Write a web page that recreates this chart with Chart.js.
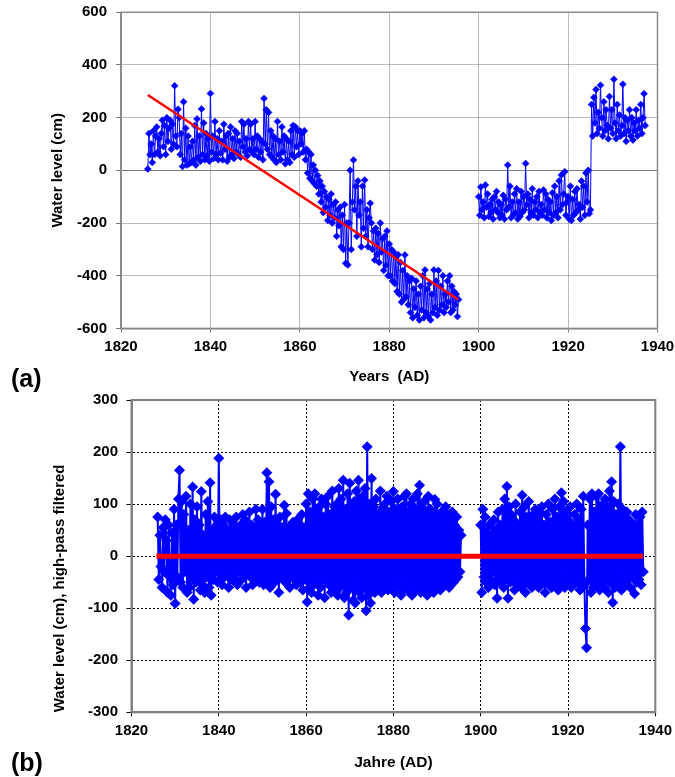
<!DOCTYPE html>
<html>
<head>
<meta charset="utf-8">
<script src="https://cdn.jsdelivr.net/npm/chart.js@4"></script>
<style>
  body { margin: 0; background: #fff; font-family: "Liberation Sans", Arial, sans-serif; }
  #wrap { position: relative; width: 675px; height: 777px; }
  .panel { position: absolute; left: 0; width: 675px; }
  #panelA { top: 0; height: 392px; }
  #panelB { top: 392px; height: 385px; }
  .tag { position: absolute; left: 11px; font-weight: bold; font-size: 25px; line-height: 1; color: #000; }
</style>
</head>
<body>
<div id="wrap">
  <div class="panel" id="panelA"><canvas id="chartA"></canvas></div>
  <div class="panel" id="panelB"><canvas id="chartB"></canvas></div>
  <div class="tag" style="top:366px">(a)</div>
  <div class="tag" style="top:750px">(b)</div>
</div>
<script>
// axis ticks
const xTicks = [1820, 1840, 1860, 1880, 1900, 1920, 1940];
const yTicksA = [-600, -400, -200, 0, 200, 400, 600];
const yTicksB = [-300, -200, -100, 0, 100, 200, 300];

// quarterly readings, two record segments (gap 1896-1899)
const sampleStep = 0.25;
const startYear1 = 1826;
const startYear2 = 1900;

// (a) water level, cm
const levelA1 = [
  5, 140, 60, 100,   30, 150, 60, 130,   165, 70, 120, 55,   140, 190, 90, 170,      // 1826-29
  60, 200, 110, 160,   190, 80, 175, 100,   321, 130, 90, 232,   200, 60, 140, 15,   // 1830-33
  260, 40, 160, 20,   130, 25, 90, 30,   110, 40, 170, 20,   195, 50, 130, 35,       // 1834-37
  233, 60, 180, 40,   140, 55, 120, 35,   292, 70, 130, 45,   185, 60, 120, 40,      // 1838-41
  150, 65, 110, 40,   175, 80, 130, 35,   140, 50, 165, 60,   120, 45, 150, 70,      // 1842-45
  140, 60, 110, 50,   185, 90, 175, 70,   120, 55, 185, 80,   175, 70, 120, 60,      // 1846-49
  185, 80, 130, 50,   120, 70, 110, 40,   273, 100, 230, 80,   220, 60, 150, 50,     // 1850-53
  130, 40, 120, 30,   185, 60, 110, 40,   165, 70, 130, 25,   120, 40, 110, 30,      // 1854-57
  150, 60, 170, 50,   165, 90, 150, 60,   150, 100, 140, 70,   150, 40, 80, -10,     // 1858-61
  70, -30, 60, -40,   20, -50, 0, -60,   -20, -90, -40, -120,   -60, -160, -80, -140, // 1862-65
  -100, -190, -110, -170,   -90, -200, -130, -180,   -120, -250, -150, -210,   -140, -290, -170, -300, // 1866-69
  -130, -353, -200, -359,   -200, 0, -300, -120,   39, -150, -60, -250,   -40, -170, -120, -290,    // 1870-73
  -60, -220, -37, -250,   -150, -290, -180, -125,   -200, -300, -230, -340,   -220, -320, -240, -350, // 1874-77
  -200, -310, -260, -380,   -250, -360, -230, -400,   -280, -400, -300, -420,   -310, -430, -330, -460, // 1878-81
  -320, -470, -350, -500,   -380, -490, -321, -480,   -400, -510, -420, -540,   -410, -560, -450, -520, // 1882-85
  -420, -550, -470, -568,   -440, -530, -400, -560,   -378, -540, -450, -555,   -430, -568, -470, -540, // 1886-89
  -378, -520, -420, -550,   -380, -530, -440, -510,   -400, -540, -470, -520,   -420, -500, -400, -540, // 1890-93
  -440, -530, -460, -510,   -470, -555, -490                                                           // 1894-95
];
const levelA2 = [
  -100, -170, -63, -150,   -120, -180, -56, -140,   -90, -175, -130, -160,   -110, -185, -100, -150, // 1900-03
  -80, -160, -120, -180,   -130, -170, -95, -185,   -110, -150, 20, -140,   -60, -180, -120, -170,    // 1904-07
  -90, -160, -70, -185,   -120, -175, -80, -160,   -100, -150, 26, -130,   -90, -180, -110, -160,     // 1908-11
  -70, -170, -120, -150,   -100, -180, -80, -160,   -130, -170, -75, -150,   -90, -180, -110, -160,   // 1912-15
  -120, -190, -85, -170,   -60, -160, -100, -180,   -40, -150, -18, -130,   -90, -5, -170, -120,      // 1916-19
  -100, -185, -60, -190,   -110, -170, -80, -160,   -70, -150, -130, -185,   -40, -140, -60, -170,    // 1920-23
  -10, -120, 0, -164,   -150, 250, 130, 277,   180, 307, 140, 220,   160, 323, 200, 130,             // 1924-27
  260, 150, 230, 170,   120, 280, 160, 230,   140, 346, 180, 120,   250, 150, 210, 130,              // 1928-31
  170, 327, 140, 200,   110, 190, 150, 230,   130, 200, 115, 180,   150, 230, 130, 190,              // 1932-35
  160, 250, 140, 200,   291, 170                                                                        // 1936-37
];
const trendYearsA = [1826, 1895.4];
const trendA = [286, -490];

// (b) high-pass filtered water level, cm
const filteredB1 = [
  75, -45, 40, -20,   -60, 55, -30, 70,   30, -70, 60, -40,   -75, 45, -55, 90,     // 1826-29
  -91, 60, -40, 110,   165, -50, 105, -60,   80, -30, 115, -70,   50, -60, 100, -45, // 1830-33
  133, -83, 70, -50,   95, -40, 60, -65,   124, -55, 40, -70,   80, -40, 105, -60,   // 1834-37
  141, -75, 50, -45,   75, -30, 60, -50,   188, -45, 70, -55,   60, -40, 75, -30,    // 1838-41
  50, -60, 70, -45,   65, -35, 55, -50,   75, -55, 45, -30,   60, -45, 80, -40,      // 1842-45
  70, -60, 55, -35,   85, -40, 60, -55,   50, -30, 90, -45,   70, -50, 60, -40,      // 1846-49
  90, -55, 65, -30,   160, -45, 143, -60,   95, -35, 70, -50,   119, -40, 60, -70,  // 1850-53
  75, -30, 55, -45,   98, -50, 82, -40,   55, -60, 45, -35,   65, -45, 50, -55,      // 1854-57
  70, -40, 60, -50,   80, -65, 55, -45,   100, -88, 120, -60,   85, -70, 110, -55,  // 1858-61
  120, -50, 90, -75,   95, -60, 110, -45,   75, -80, 100, -50,   115, -55, 80, -70,  // 1862-65
  125, -65, 95, -50,   100, -75, 130, -60,   110, -55, 146, -80,   90, -70, 120, -113, // 1866-69
  140, -60, 95, -85,   105, -90, 125, -65,   146, -70, 110, -80,   115, -60, 130, -105, // 1870-73
  210, -75, 100, -90,   149, -65, 95, -70,   110, -55, 80, -60,   125, -70, 90, -50,  // 1874-77
  100, -60, 115, -65,   85, -45, 105, -55,   124, -70, 90, -60,   110, -50, 80, -75,  // 1878-81
  95, -65, 115, -55,   120, -60, 85, -70,   100, -75, 110, -50,   90, -65, 120, -60,  // 1882-85
  136, -70, 95, -55,   105, -60, 85, -75,   115, -55, 90, -65,   80, -70, 109, -60,   // 1886-89
  100, -50, 75, -65,   85, -60, 70, -55,   95, -45, 80, -60,   70, -55, 85, -50,      // 1890-93
  60, -45, 75, -40,   50, -30, 40                                                      // 1894-95
];
const filteredB2 = [
  60, -70, 90, -40,   75, -50, 55, -60,   40, -45, 65, -30,   70, -55, 50, -81,      // 1900-03
  85, -40, 60, -50,   90, -60, 110, -45,   134, -81, 95, -50,   80, -45, 70, -65,   // 1904-07
  100, -55, 60, -40,   85, -60, 117, -50,   95, -70, 75, -45,   105, -55, 65, -60,  // 1908-11
  80, -45, 90, -50,   70, -60, 85, -40,   95, -50, 60, -70,   80, -45, 100, -55,    // 1912-15
  65, -60, 90, -45,   110, -50, 75, -65,   95, -55, 122, -45,   105, -60, 85, -50,   // 1916-19
  70, -45, 95, -60,   60, -55, 80, -40,   100, -50, 70, -65,   90, -60, 115, -55,    // 1920-23
  -139, -176, 60, -45,   110, -70, 120, -60,   85, -55, 115, -50,   120, -65, 90, -55, // 1924-27
  100, -60, 110, -45,   95, -70, 125, -50,   143, -89, 105, -60,   80, -55, 100, -45,  // 1928-31
  210, -65, 90, -50,   75, -55, 85, -45,   70, -60, 65, -40,   55, -72, 80, -50,      // 1932-35
  60, -45, 75, -55,   85, -30                                                          // 1936-37
];
const zeroYearsB = [1825.7, 1937.2];
const zeroB = [0, 0];

Chart.defaults.font.family = '"Liberation Sans", Arial, sans-serif';
Chart.defaults.color = '#000';

function toPoints(start, values) {
  return values.map((v, i) => ({ x: start + i * sampleStep, y: v }));
}
function pairPoints(xs, ys) {
  return xs.map((x, i) => ({ x: x, y: ys[i] }));
}

const plotFrame = {
  id: 'plotFrame',
  beforeDatasetsDraw(chart, args, opts) {
    const { ctx, chartArea: a } = chart;
    ctx.save();
    ctx.strokeStyle = opts.color;
    ctx.lineWidth = opts.width;
    ctx.strokeRect(a.left, a.top, a.right - a.left, a.bottom - a.top);
    ctx.restore();
  }
};

const tickFont = { size: 15, weight: 'bold' };
const titleFont = { size: 15, weight: 'bold' };

function makeChart(id, cfg) {
  return new Chart(document.getElementById(id), {
    type: 'line',
    data: { datasets: cfg.datasets },
    options: {
      responsive: true,
      maintainAspectRatio: false,
      animation: false,
      events: [],
      layout: { padding: cfg.padding },
      plugins: {
        legend: { display: false },
        tooltip: { enabled: false },
        plotFrame: { color: cfg.frameColor, width: cfg.frameWidth }
      },
      scales: {
        x: {
          type: 'linear',
          min: xTicks[0],
          max: xTicks[xTicks.length - 1],
          afterBuildTicks: s => { s.ticks = xTicks.map(v => ({ value: v })); },
          ticks: { font: tickFont, color: '#000', padding: cfg.xTickPad, maxRotation: 0, callback: v => String(v) },
          grid: { color: cfg.gridColor, lineWidth: 1, tickLength: 4 },
          border: { color: cfg.frameColor, width: cfg.frameWidth, dash: cfg.gridDash },
          title: { display: true, text: cfg.xTitle, font: cfg.xTitleFont, color: '#000', padding: { top: 0, bottom: cfg.xTitlePad } },
          afterFit: s => { s.height = cfg.xHeight; s.paddingLeft = 0; s.paddingRight = 0; }
        },
        y: {
          type: 'linear',
          min: cfg.yTicks[0],
          max: cfg.yTicks[cfg.yTicks.length - 1],
          afterBuildTicks: s => { s.ticks = cfg.yTicks.map(v => ({ value: v })); },
          ticks: { font: tickFont, color: '#000', padding: cfg.yTickPad },
          grid: { color: cfg.gridColor, lineWidth: 1, tickLength: 5 },
          border: {
            color: cfg.frameColor, width: cfg.frameWidth,
            dash: c => (cfg.solidZero && c.tick && c.tick.value === 0) ? [] : cfg.gridDash
          },
          title: { display: true, text: cfg.yTitle, font: titleFont, color: '#000', align: cfg.yTitleAlign, padding: { top: cfg.yTitlePad, bottom: 0 } },
          afterFit: s => { s.width = cfg.yWidth; s.paddingTop = 0; s.paddingBottom = 0; }
        }
      }
    },
    plugins: [plotFrame]
  });
}

// panel (a)
makeChart('chartA', {
  datasets: [
    { data: pairPoints(trendYearsA, trendA), borderColor: '#ff0000', borderWidth: 2.5, pointRadius: 0 },
    { data: toPoints(startYear1, levelA1), borderColor: '#0000ff', backgroundColor: '#0000ff', borderWidth: 1,
      pointStyle: 'rectRot', pointRadius: 3.5, pointBorderWidth: 0.5 },
    { data: toPoints(startYear2, levelA2), borderColor: '#0000ff', backgroundColor: '#0000ff', borderWidth: 1,
      pointStyle: 'rectRot', pointRadius: 3.5, pointBorderWidth: 0.5 }
  ],
  padding: { left: 0, right: 17.5, top: 12.3, bottom: 0 },
  yTicks: yTicksA,
  yWidth: 121,
  xHeight: 63.6,
  xTickPad: 5.3,
  yTickPad: 9,
  xTitle: 'Years  (AD)',
  xTitleFont: titleFont,
  xTitlePad: 6.3,
  yTitle: 'Water level (cm)',
  yTitleAlign: 'center',
  yTitlePad: 49,
  gridColor: '#7a7a7a',
  gridDash: [1, 1],
  solidZero: true,
  frameColor: '#8a8a8a',
  frameWidth: 1.5
});

// panel (b)
makeChart('chartB', {
  datasets: [
    { data: pairPoints(zeroYearsB, zeroB), borderColor: '#ff0000', borderWidth: 5, pointRadius: 0 },
    { data: toPoints(startYear1, filteredB1), borderColor: '#0000ff', backgroundColor: '#0000ff', borderWidth: 2,
      pointStyle: 'rectRot', pointRadius: 5.5, pointBorderWidth: 0 },
    { data: toPoints(startYear2, filteredB2), borderColor: '#0000ff', backgroundColor: '#0000ff', borderWidth: 2,
      pointStyle: 'rectRot', pointRadius: 5.5, pointBorderWidth: 0 }
  ],
  padding: { left: 0, right: 19.7, top: 8, bottom: 0 },
  yTicks: yTicksB,
  yWidth: 131.5,
  xHeight: 64.7,
  xTickPad: 5.4,
  yTickPad: 8.5,
  xTitle: 'Jahre (AD)',
  xTitleFont: { size: 15.5, weight: 'bold' },
  xTitlePad: 4.7,
  yTitle: 'Water level (cm), high-pass filtered',
  yTitleAlign: 'start',
  yTitlePad: 51,
  gridColor: '#000000',
  gridDash: [2, 2],
  solidZero: false,
  frameColor: '#808080',
  frameWidth: 2
});
</script>
</body>
</html>
